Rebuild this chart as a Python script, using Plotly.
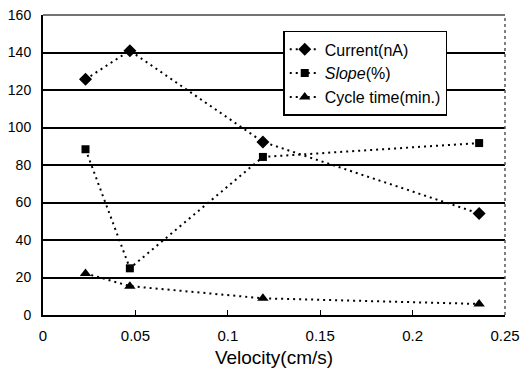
import plotly.graph_objects as go

velocity = [0.023, 0.047, 0.119, 0.236]
current = [125.7, 141, 92.3, 54.1]
slope = [88.4, 24.9, 84.3, 91.7]
cycle_time = [22.2, 15.4, 8.9, 5.9]

x_ticks = [0, 0.05, 0.1, 0.15, 0.2, 0.25]
x_tick_labels = ["0", "0.05", "0.1", "0.15", "0.2", "0.25"]
y_ticks = [0, 20, 40, 60, 80, 100, 120, 140, 160]

font_family = "Liberation Sans, Arial, sans-serif"
dotted = "2px,4px"

fig = go.Figure()
fig.add_trace(go.Scatter(
    x=velocity, y=current, name="Current(nA)", mode="lines+markers",
    line=dict(color="black", width=2, dash=dotted),
    marker=dict(symbol="diamond", size=10, color="black")))
fig.add_trace(go.Scatter(
    x=velocity, y=slope, name="<i>Slope</i>(%)", mode="lines+markers",
    line=dict(color="black", width=2, dash=dotted),
    marker=dict(symbol="square", size=8, color="black")))
fig.add_trace(go.Scatter(
    x=velocity, y=cycle_time, name="Cycle time(min.)", mode="lines+markers",
    line=dict(color="black", width=2, dash=dotted),
    marker=dict(symbol="triangle-up", size=10, color="black")))

fig.update_layout(
    width=523, height=373,
    margin=dict(l=43, r=18, t=15, b=58),
    paper_bgcolor="white", plot_bgcolor="white",
    font=dict(family=font_family, color="black", size=14),
    showlegend=True,
    legend=dict(
        x=0.52, y=0.947, xanchor="left", yanchor="top",
        bgcolor="white", bordercolor="black", borderwidth=1.5,
        font=dict(size=16), tracegroupgap=0,
    ),
    xaxis=dict(
        range=[0, 0.25], tickvals=x_ticks, ticktext=x_tick_labels,
        showgrid=False, showline=True, linecolor="black", linewidth=2,
        ticks="inside", ticklen=5, tickwidth=1, tickcolor="black",
        zeroline=False, automargin=False,
        title=dict(text="Velocity(cm/s)", font=dict(size=19), standoff=8),
        tickfont=dict(size=15), ticklabelstandoff=6,
        ticklabeloverflow="allow",
    ),
    yaxis=dict(
        range=[0, 160], tickvals=y_ticks,
        showgrid=True, gridcolor="black", gridwidth=1.5,
        showline=True, linecolor="black", linewidth=2,
        zeroline=False, ticks="", tickfont=dict(size=14), automargin=False,
        ticklabelstandoff=7, ticklabeloverflow="allow",
    ),
    shapes=[
        dict(type="line", xref="paper", yref="paper", x0=0, x1=1, y0=1, y1=1,
             line=dict(color="#444444", width=1.5)),
        dict(type="line", xref="paper", yref="paper", x0=1, x1=1, y0=0, y1=1,
             line=dict(color="#555555", width=1.5, dash="dot")),
    ],
)

fig.write_html(
    "out.html",
    config={"displayModeBar": False},
    post_script="document.body.style.margin='0';document.body.style.overflow='hidden';",
)
